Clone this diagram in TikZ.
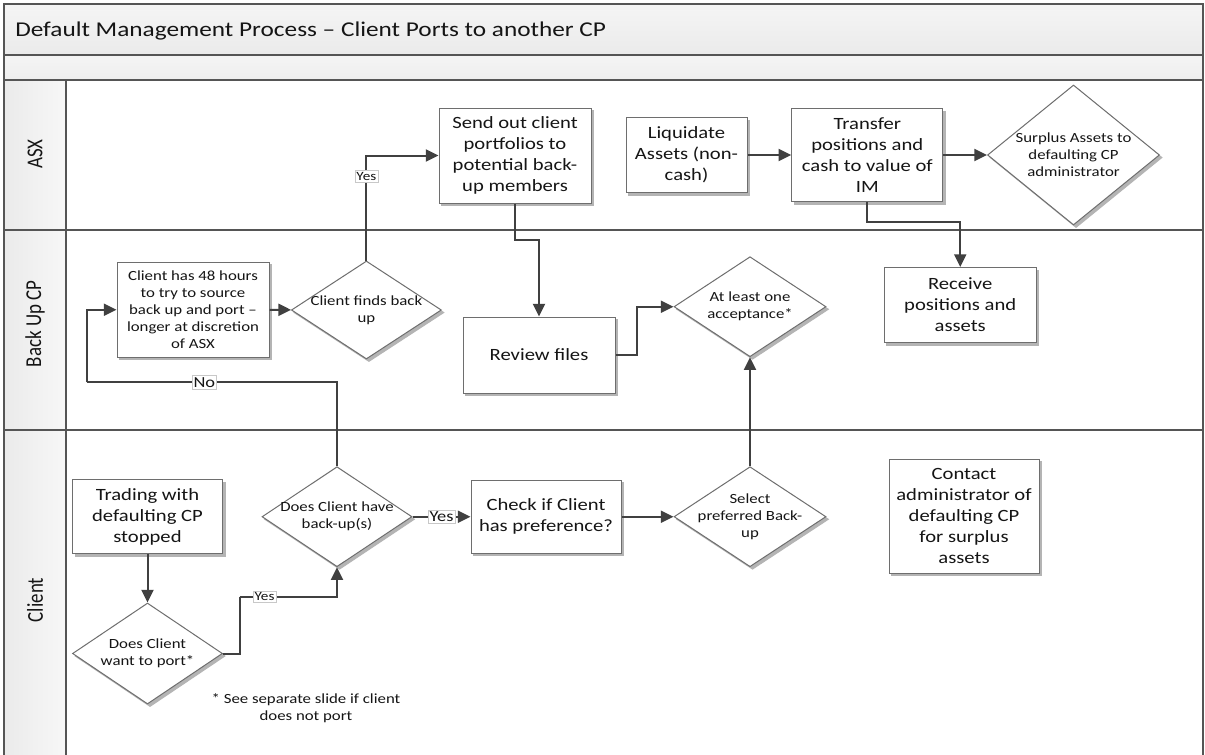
\documentclass[tikz,border=0pt]{standalone}
\usepackage{fontspec}
\setmainfont{Carlito}[FakeStretch=1.2]
\newfontfamily\lanefont{Carlito}
\usetikzlibrary{shapes.geometric,arrows.meta,calc}
\definecolor{linec}{HTML}{404040}
\definecolor{bordc}{HTML}{6E6E6E}
\definecolor{lanec}{HTML}{555555}
\definecolor{shadc}{HTML}{B4B4B4}
\definecolor{labc}{HTML}{C8C8C8}
\definecolor{txtc}{HTML}{151515}
\tikzset{
  myshadow/.style={preaction={fill=shadc, draw=shadc, line width=0.75pt,
    transform canvas={xshift=1.9pt, yshift=-1.9pt}}},
  box/.style={draw=bordc, line width=0.75pt, fill=white, align=center, inner sep=0pt,
    text=txtc, font=\fontsize{12.9}{15.75}\selectfont, myshadow},
  smallbox/.style={box, font=\fontsize{10.5}{12.75}\selectfont},
  dec/.style={diamond, draw=bordc, line width=0.75pt, fill=white, inner sep=0pt, myshadow},
  dtext/.style={align=center, inner sep=0pt, text=txtc, font=\fontsize{10.5}{12.75}\selectfont},
  conn/.style={draw=linec, line width=1.5pt, -{Triangle[length=9.5pt,width=9pt]}},
  plainconn/.style={draw=linec, line width=1.5pt},
  ylab/.style={fill=white, draw=labc, line width=0.5pt, inner sep=1.2pt, text=txtc,
    font=\fontsize{9.5}{10}\selectfont},
  ylabbig/.style={ylab, font=\fontsize{11.5}{12}\selectfont},
  lanelab/.style={rotate=90, text=txtc, font=\lanefont\fontsize{14.2}{16}\selectfont},
}
\begin{document}
\begin{tikzpicture}[x=0.75pt, y=-0.75pt]
\useasboundingbox (0,0) rectangle (1205,754);
\clip (0,0) rectangle (1205,754);
% backgrounds
\fill[white] (0,0) rectangle (1205,754);
\path[top color=white!96!black, bottom color=white!92!black] (4,4) rectangle (1203,55);
\path[top color=white!96!black, bottom color=white!93!black] (4,55) rectangle (1203,80);
\path[left color=white!92!black, right color=white!97!black] (4,80) rectangle (66,790);
% lines
\draw[lanec, line width=1pt] (4,55) -- (1203,55);
\draw[lanec, line width=1pt] (4,80) -- (1203,80);
\draw[lanec, line width=1pt] (66,80) -- (66,790);
\draw[lanec, line width=1pt] (4,230) -- (1203,230);
\draw[lanec, line width=1pt] (4,430) -- (1203,430);
\draw[lanec, line width=1.2pt] (4,4) rectangle (1203,790);
% title and lanes
\node[anchor=west, inner sep=0pt, text=txtc, font=\fontsize{15.8}{18}\selectfont] (title) at (15,31)
  {Default Management Process – Client Ports to another CP};
\node[lanelab] (lasx) at (35,154) {\scalebox{1}[1.2]{ASX}};
\node[lanelab] (lbcp) at (35,324) {\scalebox{1}[1.2]{Back Up CP}};
\node[lanelab] (lcli) at (35,600) {\scalebox{1}[1.2]{Client}};
% ASX lane
\node[box, minimum width=114pt, minimum height=71.25pt] (send) at (515,155.5)
  {Send out client\\portfolios to\\potential back-\\up members};
\node[box, minimum width=90.75pt, minimum height=56.25pt] (liq) at (686.5,155)
  {Liquidate\\Assets (non-\\cash)};
\node[box, minimum width=113.25pt, minimum height=69.75pt] (trans) at (867.3,155)
  {Transfer\\positions and\\cash to value of\\IM};
\node[dec, minimum width=129pt, minimum height=105pt,
  label={[dtext]center:{Surplus Assets to\\defaulting CP\\administrator}}] (surplus) at (1073.5,155) {};
% Back Up CP lane
\node[smallbox, minimum width=114pt, minimum height=71.25pt] (h48) at (193,309.7)
  {Client has 48 hours\\to try to source\\back up and port –\\longer at discretion\\of ASX};
\node[dec, minimum width=112.5pt, minimum height=73.5pt,
  label={[dtext]center:{Client finds back\\up}}] (finds) at (366.4,310) {};
\node[box, minimum width=114pt, minimum height=57pt] (review) at (539,355) {Review files};
\node[dec, minimum width=114pt, minimum height=75pt,
  label={[dtext]center:{At least one\\acceptance*}}] (atleast) at (750,306.7) {};
\node[box, minimum width=114pt, minimum height=56.25pt] (receive) at (960.2,305)
  {Receive\\positions and\\assets};
% Client lane
\node[box, minimum width=112.5pt, minimum height=55.5pt] (trading) at (147.5,516.5)
  {Trading with\\defaulting CP\\stopped};
\node[dec, minimum width=112.5pt, minimum height=75.75pt,
  label={[dtext]center:{Does Client\\want to port*}}] (wantport) at (147.5,653.5) {};
\node[dec, minimum width=112.5pt, minimum height=75pt,
  label={[dtext]center:{Does Client have\\back-up(s)}}] (haveback) at (337,516.7) {};
\node[box, minimum width=112.5pt, minimum height=54.75pt] (check) at (546,516.7)
  {Check if Client\\has preference?};
\node[dec, minimum width=114pt, minimum height=75pt,
  label={[dtext]center:{Select\\preferred Back-\\up}}] (select) at (750,516.7) {};
\node[box, minimum width=112.5pt, minimum height=85.5pt] (contact) at (964,516)
  {Contact\\administrator of\\defaulting CP\\for surplus\\assets};
\node[dtext] (note) at (306,708) {* See separate slide if client\\does not port};
% helper coordinates
\coordinate (y1) at (239.6,596.7);
\coordinate (n1) at (86.8,382.3);
\coordinate (r1) at (0,240);
\coordinate (k1) at (636.6,330);
\coordinate (t1) at (0,222);
% connectors
\draw[conn] (trading) -- (wantport);
\draw[plainconn] (wantport.east) -| (y1);
\draw[conn] (y1) -- node[ylab, pos=0.256]{Yes} (y1 -| haveback.south) -- (haveback.south);
\draw[conn] (haveback) -- node[ylabbig]{Yes} (check);
\draw[conn] (check) -- (select);
\draw[conn] (select) -- (atleast);
\draw[plainconn] (haveback.north) |- node[ylabbig, pos=0.765]{No} (n1);
\draw[conn] (n1) |- (h48.west);
\draw[conn] (h48) -- (finds);
\draw[conn] (finds.north) |- node[ylab, pos=0.40]{Yes} (send.west);
\draw[conn] (send.south) -- (send.south |- r1) -| (review.north);
\draw[conn] (review.east) -| (k1) |- (atleast.west);
\draw[conn] (liq) -- (trans);
\draw[conn] (trans) -- (surplus);
\draw[conn] (trans.south) -- (trans.south |- t1) -| (receive.north);
\end{tikzpicture}
\end{document}
